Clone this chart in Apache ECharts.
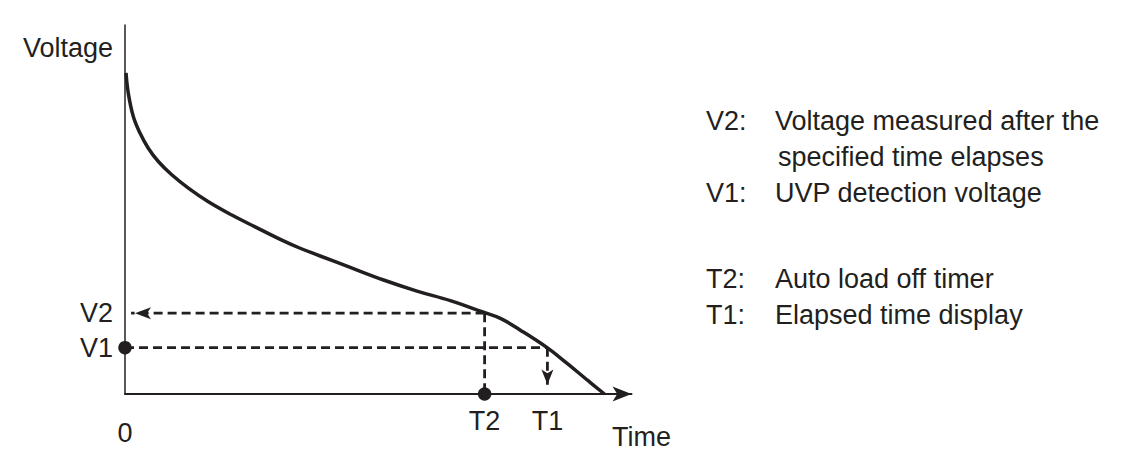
<!DOCTYPE html>
<html>
<head>
<meta charset="utf-8">
<script src="https://cdn.jsdelivr.net/npm/echarts@6/dist/echarts.min.js"></script>
<style>
html,body{margin:0;padding:0;background:#fff;}
#chart{width:1122px;height:471px;}
</style>
</head>
<body>
<div id="chart"></div>
<script>
// ---- data (arbitrary units 0..100) ----
const curveTime = [0.2, 0.65, 1.64, 2.96, 4.60, 6.58, 9.23, 12.51, 16.46, 21.09, 25.69, 30.97, 34.58, 38.54, 44.47, 51.05, 57.65, 64.23, 70.49, 74.11, 78.06, 83.34, 87.29, 91.25, 94.66];
const curveVoltage = [87.0, 81.5, 75.2, 70.7, 66.6, 63.0, 59.4, 55.8, 52.1, 48.5, 45.3, 41.7, 39.5, 37.4, 34.3, 30.9, 27.9, 25.3, 22.3, 20.5, 17.3, 12.55, 8.3, 3.8, 0];
const V2 = 21.9;
const V1 = 12.55;
const T2 = 71.0;
const T1 = 83.4;
const xTickValues = [0, T2, T1];
const xTickLabels = ['0', 'T2', 'T1'];
const yTickValues = [V1, V2];
const yTickLabels = ['V1', 'V2'];
const yAxisName = 'Voltage';
const xAxisName = 'Time';
const notes = [
  ['V2:', 'Voltage measured after the'],
  ['', 'specified time elapses'],
  ['V1:', 'UVP detection voltage'],
  ['T2:', 'Auto load off timer'],
  ['T1:', 'Elapsed time display']
];
// -----------------------------------------------------------------

const INK = '#231f20';
const FONT = 'Liberation Sans, Arial, Helvetica, sans-serif';
const FS = 27;
const curve = curveTime.map((t, i) => [t, curveVoltage[i]]);

const noteY = [121, 157, 193, 279, 315];
const graphics = [];
notes.forEach((n, i) => {
  if (n[0]) graphics.push({type:'text', x:706, y:noteY[i], style:{text:n[0], fill:INK, fontSize:FS, fontFamily:FONT, align:'left', verticalAlign:'middle'}});
  graphics.push({type:'text', x:i===1?778:775, y:noteY[i], style:{text:n[1], fill:INK, fontSize:FS, fontFamily:FONT, align:'left', verticalAlign:'middle'}});
});
graphics.push({type:'text', x:113, y:48, style:{text:yAxisName, fill:INK, fontSize:FS, fontFamily:FONT, align:'right', verticalAlign:'middle'}});
graphics.push({type:'text', x:612, y:437, style:{text:xAxisName, fill:INK, fontSize:FS, fontFamily:FONT, align:'left', verticalAlign:'middle'}});

function dashSeries(data){
  return {type:'line', data:data, showSymbol:false, symbol:'none', clip:false, silent:true, z:2,
    lineStyle:{type:[9,5], width:2.8, color:INK}};
}

const chart = echarts.init(document.getElementById('chart'), null, {renderer:'svg'});
chart.setOption({
  backgroundColor:'#fff',
  animation:false,
  grid:{left:125, right:490.5, top:25, bottom:77, outerBoundsMode:'none', containLabel:false},
  xAxis:{
    type:'value', min:0, max:100,
    axisLine:{show:true, symbol:['none','arrow'], symbolSize:[11.25,19], lineStyle:{color:INK, width:2}},
    axisTick:{show:false}, splitLine:{show:false},
    axisLabel:{
      customValues:xTickValues, margin:13, color:INK, fontSize:FS, fontFamily:FONT,
      formatter:function(v, i){ const k = xTickValues.indexOf(v); const s = xTickLabels[k >= 0 ? k : i]; return s === '0' ? '{z|' + s + '}' : s; },
      rich:{z:{fontSize:FS, fontFamily:FONT, color:INK, padding:[12,0,0,0]}}
    }
  },
  yAxis:{
    type:'value', min:0, max:100,
    axisLine:{show:true, lineStyle:{color:INK, width:1.5}},
    axisTick:{show:false}, splitLine:{show:false},
    axisLabel:{
      customValues:yTickValues, margin:12, color:INK, fontSize:FS, fontFamily:FONT,
      formatter:function(v, i){ const k = yTickValues.indexOf(v); return yTickLabels[k >= 0 ? k : i]; }
    }
  },
  graphic:graphics,
  series:[
    {
      type:'line', data:curve, smooth:0.4, showSymbol:false, clip:false, silent:true,
      lineStyle:{color:INK, width:3.5}, z:3
    },
    dashSeries([[T2, V2], [1.2, V2]]),
    dashSeries([[0, V1], [T1, V1]]),
    dashSeries([[T2, V2], [T2, 0]]),
    dashSeries([[T1, V1], [T1, 2]]),
    {
      type:'scatter', silent:true, clip:false, z:6,
      itemStyle:{color:INK, opacity:1},
      data:[
        {value:[0, V2], symbol:'arrow', symbolSize:[9,16], symbolRotate:90, symbolOffset:[10,0]},
        {value:[T1, 0], symbol:'arrow', symbolSize:[9,15], symbolRotate:180, symbolOffset:[0,-9.5]}
      ]
    },
    {
      type:'scatter', data:[[0, V1], [T2, 0]], symbol:'circle', symbolSize:13.5,
      itemStyle:{color:INK, opacity:1}, z:5, clip:false, silent:true
    }
  ]
});
</script>
</body>
</html>
